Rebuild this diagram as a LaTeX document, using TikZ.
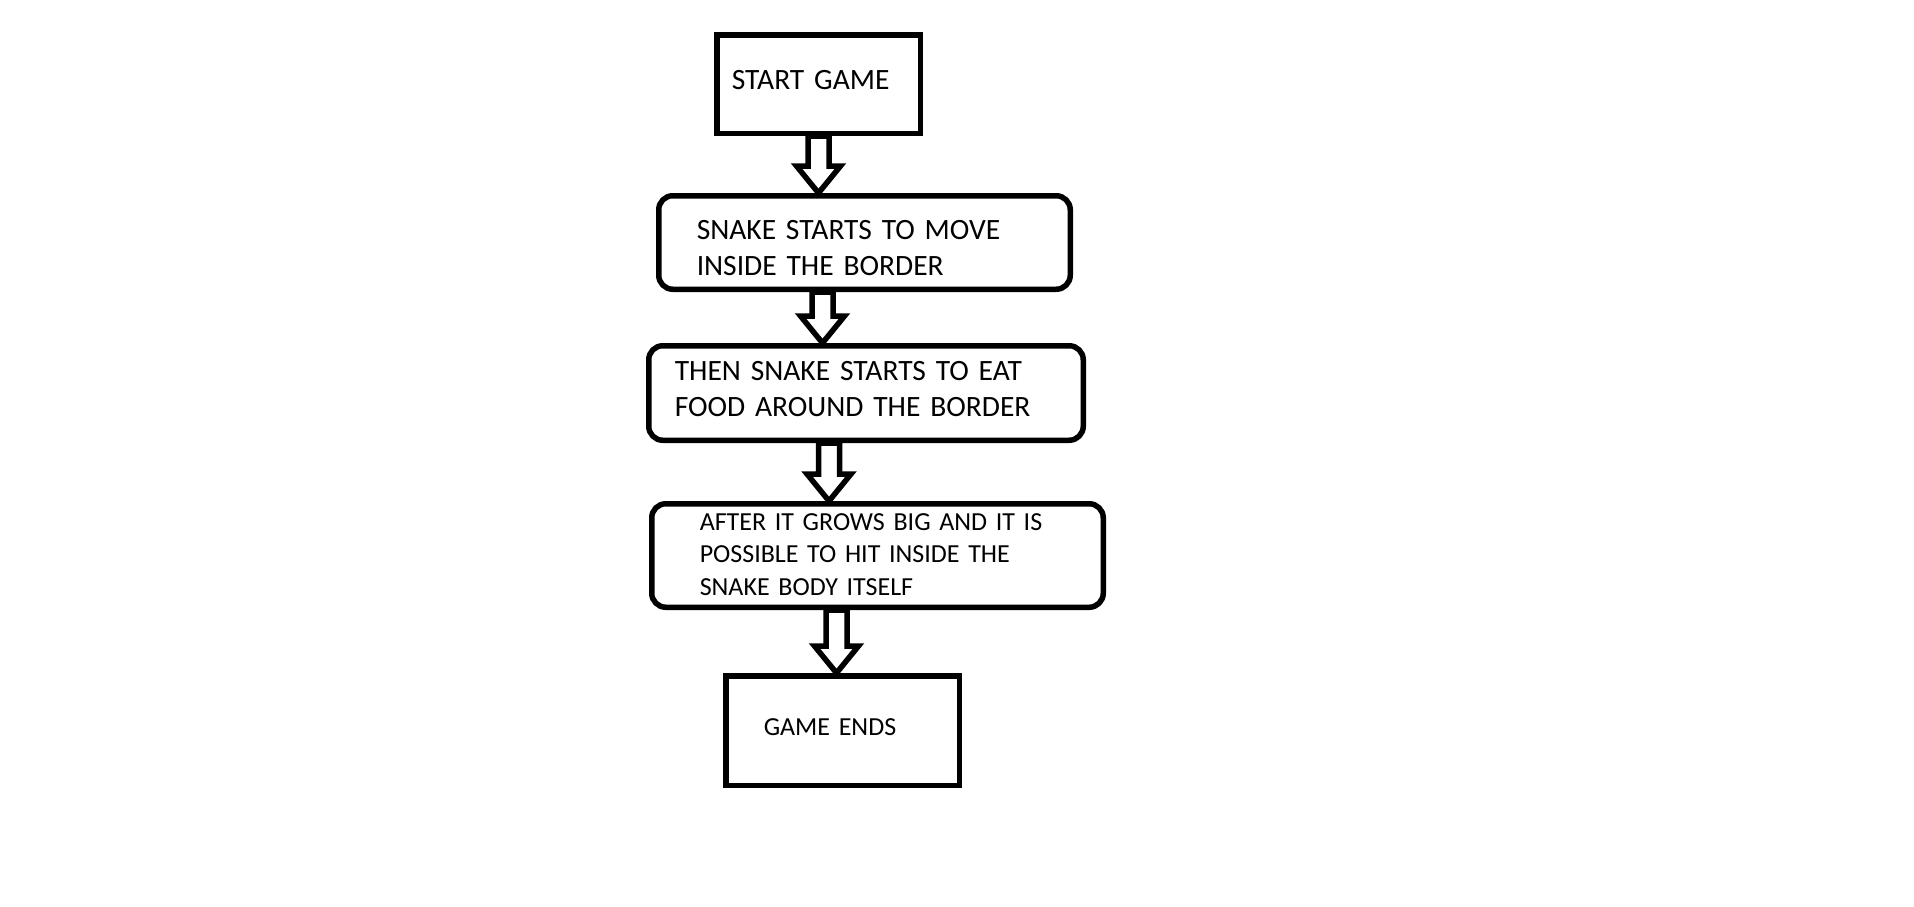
\documentclass[tikz,border=0pt]{standalone}
\usepackage{fontspec}
\setmainfont{Carlito}
\usetikzlibrary{calc}
\tikzset{
	stepbox/.style={draw, line width=5.5pt, inner ysep=0pt, align=left,
		font=\fontsize{29.5}{36.6}\selectfont},
	roundbox/.style={stepbox, rounded corners=14pt},
	smalltext/.style={font=\fontsize{26}{32.5}\selectfont},
	blockarrow/.style={draw, fill=white, line width=5.5pt, line join=miter}
}
\begin{document}
\begin{tikzpicture}[x=1pt,y=-1pt]
	\useasboundingbox (0,0) rectangle (1914,906);
	\node[stepbox, minimum width=203.5pt, minimum height=98.5pt, inner xsep=15pt, text width=173.5pt, text height=20pt, text depth=10pt] (start) at (818.5,84) {START GAME};
	\node[roundbox, minimum width=411.5pt, minimum height=93.5pt, inner xsep=38pt, text width=335.5pt, text height=29.6pt, text depth=36.6pt] (move) at (864.5,242.5) {SNAKE STARTS TO MOVE\\INSIDE THE BORDER};
	\node[roundbox, minimum width=434.5pt, minimum height=94.5pt, inner xsep=26pt, text width=382.5pt, text height=10.6pt, text depth=36.6pt] (eat) at (866,393) {THEN SNAKE STARTS TO EAT\\FOOD AROUND THE BORDER};
	\node[roundbox, smalltext, minimum width=451.5pt, minimum height=103.5pt, inner xsep=48pt, text width=355.5pt, text height=14pt, text depth=65pt] (hit) at (877.5,555.5) {AFTER IT GROWS BIG AND IT IS\\POSSIBLE TO HIT INSIDE THE\\SNAKE BODY ITSELF};
	\node[stepbox, smalltext, minimum width=233.5pt, minimum height=109.5pt, inner xsep=38pt, text width=157.5pt, text height=20pt, text depth=11pt] (ends) at (842.5,730.5) {GAME ENDS};
	% hollow arrows between the boxes
	\foreach \a/\b/\d in {start/move/0, move/eat/-42, eat/hit/-37, hit/ends/-41} {
		\draw[blockarrow] let \p1=($(\a.south)+(\d pt,0)$), \p2=(\b.north) in
			(\x1-10.5pt,\y1) -- (\x1-10.5pt,\y2+27pt) -- (\x1-22pt,\y2+27pt) -- (\x1,\y2)
			-- (\x1+22pt,\y2+27pt) -- (\x1+10.5pt,\y2+27pt) -- (\x1+10.5pt,\y1) -- cycle;
	}
\end{tikzpicture}
\end{document}
